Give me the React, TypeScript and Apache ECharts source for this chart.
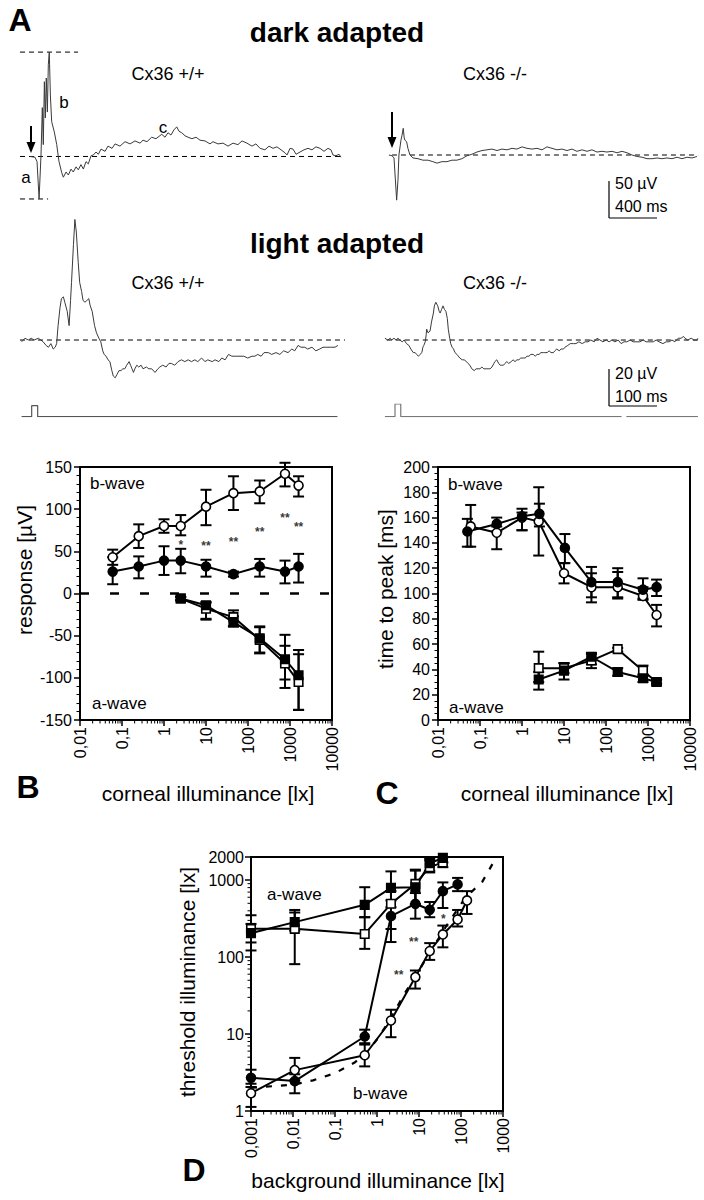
import React, { useEffect, useRef } from "react";
import * as echarts from "echarts";

const FONT = "'Liberation Sans', Arial, Helvetica, sans-serif";

// ---------- Panel A : ERG traces (time [ms], amplitude [µV]) ----------
const darkWtT = [-8, 33, 50, 67, 83, 94, 102, 111, 119, 127, 136, 144, 152, 161, 172, 194, 214, 233, 256, 269, 292, 311, 333, 352, 375, 394, 416, 436, 458, 477, 500, 519, 541, 561, 583, 617, 641, 675, 700, 741, 783, 825, 866, 908, 933, 966, 1005, 1041, 1089, 1116, 1141, 1166, 1191, 1214, 1233, 1256, 1283, 1308, 1341, 1375, 1408, 1450, 1491, 1516, 1558, 1600, 1641, 1683, 1724, 1758, 1799, 1841, 1874, 1908, 1949, 1983, 2016, 2049, 2083, 2116, 2133, 2158, 2183, 2208, 2241, 2274, 2308, 2341, 2374, 2408, 2441, 2474, 2499, 2516, 2541, 2566, 2583];
const darkWtV = [0, -1, -7, -57, 2, 66, 16, 101, 52, 106, 60, 124, 141, 83, 47, 33, 16, -7, -22, -28, -21, -25, -17, -21, -14, -18, -11, -17, -7, -10, 1, 2, 6, 3, 10, 7, 14, 11, 17, 14, 20, 17, 21, 18, 22, 20, 26, 24, 30, 26, 32, 29, 36, 40, 34, 32, 28, 26, 24, 26, 22, 21, 17, 20, 17, 18, 14, 18, 16, 21, 18, 14, 17, 11, 9, 14, 11, 13, 9, 5, 2, 11, 10, 3, 6, 9, 11, 9, 13, 11, 7, 11, 9, 2, 1, 3, -1];

const darkKoT = [-25, 0, 17, 39, 50, 58, 75, 83, 94, 102, 108, 122, 133, 150, 175, 217, 258, 300, 341, 375, 416, 458, 500, 541, 583, 625, 666, 708, 750, 791, 833, 875, 916, 958, 1000, 1041, 1083, 1125, 1166, 1208, 1250, 1291, 1333, 1375, 1416, 1458, 1500, 1541, 1583, 1625, 1666, 1708, 1750, 1791, 1833, 1875, 1916, 1958, 2000, 2041, 2083, 2125, 2166, 2208, 2250, 2291, 2333, 2375, 2416, 2458, 2500, 2541];
const darkKoV = [0, -1, -4, -61, -34, 0, 20, 26, 36, 23, 20, 18, 9, 0, -4, -5, -7, -7, -9, -11, -9, -9, -7, -7, -5, -1, 1, 4, 6, 7, 8, 6, 8, 7, 9, 8, 11, 9, 8, 9, 7, 11, 9, 7, 8, 6, 8, 5, 7, 5, 7, 4, 5, 4, 5, 3, 5, 3, 0, -2, -3, -5, -5, -4, -5, -4, -5, -3, -5, -3, -4, -2];

const lightWtT = [-21, -14, -7, -1, 5, 14, 19, 24, 30, 35, 40, 45, 49, 52, 55, 59, 62, 66, 69, 74, 78, 81, 83, 87, 90, 93, 97, 100, 104, 107, 111, 115, 119, 122, 126, 131, 135, 140, 144, 148, 151, 155, 159, 163, 167, 170, 174, 178, 182, 186, 190, 194, 198, 203, 206, 209, 212, 215, 219, 223, 228, 232, 239, 244, 250, 257, 263, 267, 273, 280, 286, 291, 298, 305, 312, 319, 326, 333, 340, 346, 354, 361, 367, 376, 382, 390, 396, 403, 410, 417, 425, 434, 442, 450, 459, 465, 471, 478, 484, 493, 500, 509, 517, 525, 534, 542, 548, 555, 561, 569, 575, 584, 592, 600, 607, 615, 623, 632, 638];
const lightWtV = [-1, 1, 0, 1, 0, 1, 0, -1, -3, -4, -2, -5, -4, -2, 8, 18, 23, 24, 21, 16, 8, 22, 32, 53, 67, 60, 43, 32, 27, 22, 21, 22, 23, 19, 16, 8, 4, 1, -1, -6, -8, -9, -11, -12, -17, -20, -21, -19, -17, -17, -16, -16, -14, -12, -14, -16, -18, -16, -14, -15, -14, -16, -15, -16, -16, -18, -16, -15, -14, -15, -13, -13, -14, -12, -11, -12, -11, -12, -11, -12, -10, -12, -11, -12, -11, -12, -10, -11, -8, -9, -9, -9, -9, -10, -9, -9, -8, -9, -7, -7, -8, -7, -8, -6, -7, -5, -6, -3, -4, -4, -5, -4, -6, -5, -4, -4, -4, -4, -3];

const lightKoT = [-21, -15, -10, -7, -2, 2, 6, 10, 15, 19, 24, 29, 33, 38, 42, 45, 49, 52, 56, 58, 60, 63, 65, 66, 69, 73, 76, 80, 82, 85, 89, 92, 94, 97, 100, 103, 106, 109, 111, 114, 116, 119, 122, 125, 129, 135, 140, 144, 149, 152, 156, 160, 165, 169, 173, 177, 181, 185, 190, 194, 198, 202, 206, 208, 212, 216, 219, 222, 226, 229, 233, 237, 242, 246, 250, 254, 258, 262, 267, 271, 275, 279, 283, 288, 292, 296, 300, 304, 309, 312, 317, 321, 325, 330, 333, 337, 342, 346, 351, 354, 360, 365, 372, 377, 383, 390, 396, 402, 408, 415, 421, 427, 433, 440, 446, 452, 458, 465, 471, 477, 483, 490, 496, 502, 510, 517, 523, 531, 538, 544, 550, 558, 565, 571, 577, 583, 590, 596, 601, 604, 610, 617, 623, 629, 631];
const lightKoV = [1, 0, 1, 0, 1, 0, 1, 0, -1, 0, -2, -3, -5, -7, -7, -8, -9, -8, -7, -4, -3, -1, 3, 6, 4, 5, 10, 15, 19, 21, 19, 16, 15, 17, 19, 17, 16, 12, 6, 1, -2, -4, -5, -7, -8, -10, -11, -11, -12, -13, -14, -16, -17, -16, -16, -16, -15, -16, -16, -16, -16, -15, -13, -12, -11, -13, -14, -14, -14, -13, -12, -13, -12, -11, -12, -11, -11, -10, -10, -10, -9, -9, -8, -8, -9, -8, -8, -7, -7, -7, -7, -6, -7, -7, -6, -5, -6, -5, -5, -4, -3, -2, -2, -2, -1, -2, -1, -1, 0, -1, 1, 0, -1, 0, -1, 0, -1, 0, -2, -1, -1, 0, -1, -1, -1, 0, -1, -1, -1, 0, -1, -2, -1, -1, 0, -1, 1, 1, 2, 1, 0, 1, 0, 0, 1];

// stimulus monitor traces (ms, on/off)
const stimLT = [-21, 0, 0, 12.5, 12.5, 637];
const stimLV = [0, 0, 1, 1, 0, 0];
const stimRT = [-21, 0, 0, 12, 12, 472, 477, 482, 631];
const stimRV: (number | string)[] = [0, 0, 1, 1, 0, 0, "-", 0, 0];

// ---------- Panel B : response amplitude ----------
const bLux = [0.06, 0.25, 1, 2.5, 10, 45, 190, 760, 1600];
const bWaveWT = [43, 68, 80, 80, 103, 119, 121, 142, 128];
const bWaveWTLo = [34, 54, 72, 69, 81, 99, 107, 127, 115];
const bWaveWTHi = [52, 82, 88, 93, 123, 139, 134, 155, 139];
const bWaveKO = [26, 32, 39, 39, 32, 23, 32, 26, 32];
const bWaveKOLo = [11, 18, 22, 24, 20, 20, 20, 12, 13];
const bWaveKOHi = [43, 44, 56, 53, 40, 26, 41, 39, 47];
const aLux = [2.5, 10, 45, 190, 760, 1600];
const aWaveWT = [-6, -18, -28, -55, -83, -105];
const aWaveWTLo = [-8, -31, -39, -71, -102, -138];
const aWaveWTHi = [-4, -11, -20, -39, -49, -67];
const aWaveKO = [-6, -14, -34, -53, -78, -97];
const aWaveKOLo = [-8, -30, -39, -70, -112, -138];
const aWaveKOHi = [-4, -10, -27, -40, -62, -72];
const bSigX = [2.5, 10, 45, 190, 760, 1600];
const bSigY = [58, 56, 61, 73, 89, 79];
const bSigT = ["*", "**", "**", "**", "**", "**"];

// ---------- Panel C : time to peak ----------
const cLuxWT = [0.06, 0.25, 1, 2.5, 10, 45, 190, 760, 1600];
const cLuxKO = [0.05, 0.25, 1, 2.6, 10.5, 45, 190, 760, 1600];
const cBWT = [153, 148, 160, 157, 116, 105, 105, 98, 83];
const cBWTLo = [137, 135, 150, 130, 108, 93, 96, 95, 74];
const cBWTHi = [170, 153, 164, 184, 124, 116, 117, 105, 91];
const cBKO = [149, 155, 161, 163, 136, 109, 109, 103, 105];
const cBKOLo = [137, 149, 150, 153, 124, 97, 97, 96, 98];
const cBKOHi = [159, 160, 167, 171, 147, 121, 120, 112, 111];
const cALux = [2.5, 10, 45, 190, 760, 1600];
const cAWT = [41, 41, 47, 56, 39, 30];
const cAWTLo = [30, 37, 41, 54, 35, 29];
const cAWTHi = [54, 45, 52, 57, 43, 32];
const cAKO = [32, 39, 50, 38, 33, 30];
const cAKOLo = [24, 32, 44, 35, 30, 28];
const cAKOHi = [38, 45, 53, 41, 36, 32];

// ---------- Panel D : threshold vs background ----------
const dLux = [0.001, 0.011, 0.51, 2.15, 8.2, 18, 37, 83, 139];
const dBWT = [1.7, 3.4, 5.3, 15, 55, 120, 197, 308, 545];
const dBWTLo = [1.13, 2.5, 3.8, 9.1, 39, 92, 134, 250, 364];
const dBWTHi = [2.26, 4.9, 7.3, 20.7, 67, 152, 257, 410, 720];
const dLuxKO = [0.001, 0.011, 0.51, 2.15, 8.2, 18, 37, 83];
const dBKO = [2.7, 2.45, 9.3, 340, 493, 412, 720, 880];
const dBKOLo = [2.05, 1.7, 7.6, 232, 316, 330, 435, 720];
const dBKOHi = [3.44, 3.0, 11.4, 545, 680, 520, 935, 1070];
const dLuxA = [0.001, 0.011, 0.51, 2.15, 8.2, 18, 37];
const dAKO = [205, 285, 478, 795, 810, 1660, 1950];
const dAKOLo = [122, 220, 330, 445, 470, 1325, 1700];
const dAKOHi = [270, 380, 810, 1300, 1370, 1900, 2000];
const dAWT = [233, 233, 200, 493, 895, 1475, 1700];
const dAWTLo = [155, 81, 128, 157, 490, 1260, 1475];
const dAWTHi = [350, 410, 330, 720, 1330, 1800, 1970];
const dDashX = [0.001, 0.01, 0.03, 0.1, 0.3, 0.6, 1, 2, 4, 8, 20, 50, 130, 320, 700];
const dDashY = [2.0, 2.2, 2.5, 3.1, 4.3, 6.0, 8.5, 15, 30, 55, 125, 280, 600, 950, 2000];
const dSigX = [3.3, 7.5, 38];
const dSigY = [58, 157, 310];
const dSigT = ["**", "**", "*"];

// ---------- helpers ----------
const zip = (a: number[], b: (number | string)[]) => a.map((v, i) => [v, b[i]]);
const zip3 = (a: number[], b: number[], c: number[]) => a.map((v, i) => [v, b[i], c[i]]);

const fmtLog = (v: number) => {
  if (v >= 1) return String(Math.round(v));
  const d = Math.round(-Math.log10(v));
  return v.toFixed(d).replace(".", ",");
};

const minorLogVals = (from: number, decades: number) => {
  const out: number[] = [];
  let d = from;
  for (let i = 0; i < decades; i++) {
    for (let k = 2; k <= 9; k++) out.push(+(d * k).toPrecision(3));
    d *= 10;
  }
  return out;
};

const errBar = (gi: number, data: number[][]) => ({
  type: "custom",
  xAxisIndex: gi,
  yAxisIndex: gi,
  data,
  z: 2,
  silent: true,
  clip: false,
  renderItem: (_p: any, api: any) => {
    const x = api.value(0);
    const lo = api.coord([x, api.value(1)]);
    const hi = api.coord([x, api.value(2)]);
    const w = 5.5;
    const st = { stroke: "#000", lineWidth: 2 };
    return {
      type: "group",
      children: [
        { type: "line", shape: { x1: lo[0], y1: lo[1], x2: hi[0], y2: hi[1] }, style: st },
        { type: "line", shape: { x1: lo[0] - w, y1: lo[1], x2: lo[0] + w, y2: lo[1] }, style: st },
        { type: "line", shape: { x1: hi[0] - w, y1: hi[1], x2: hi[0] + w, y2: hi[1] }, style: st },
      ],
    };
  },
});

const marks = (gi: number, data: any[], square: boolean, open: boolean) => ({
  type: "line",
  xAxisIndex: gi,
  yAxisIndex: gi,
  data,
  z: 3,
  clip: false,
  silent: true,
  symbol: square ? "rect" : "circle",
  symbolSize: square ? 8.5 : 9,
  showAllSymbol: true,
  itemStyle: { color: open ? "#fff" : "#000", borderColor: "#000", borderWidth: 1.6 },
  lineStyle: { color: "#000", width: 2 },
});

const minorTicksX = (gi: number, vals: number[], yBase: number) => ({
  type: "custom",
  xAxisIndex: gi,
  yAxisIndex: gi,
  data: vals.map((v) => [v, yBase]),
  silent: true,
  clip: false,
  z: 4,
  renderItem: (_p: any, api: any) => {
    const c = api.coord([api.value(0), api.value(1)]);
    return { type: "line", shape: { x1: c[0], y1: c[1], x2: c[0], y2: c[1] + 3.5 }, style: { stroke: "#000", lineWidth: 1 } };
  },
});

const minorTicksY = (gi: number, vals: number[], xBase: number) => ({
  type: "custom",
  xAxisIndex: gi,
  yAxisIndex: gi,
  data: vals.map((v) => [xBase, v]),
  silent: true,
  clip: false,
  z: 4,
  renderItem: (_p: any, api: any) => {
    const c = api.coord([api.value(0), api.value(1)]);
    return { type: "line", shape: { x1: c[0], y1: c[1], x2: c[0] - 3.5, y2: c[1] }, style: { stroke: "#000", lineWidth: 1 } };
  },
});

const sig = (gi: number, xs: number[], ys: number[], ts: string[]) => ({
  type: "scatter",
  xAxisIndex: gi,
  yAxisIndex: gi,
  data: xs.map((x, i) => [x, ys[i], ts[i]]),
  symbolSize: 1,
  itemStyle: { color: "rgba(0,0,0,0)" },
  silent: true,
  z: 3,
  label: {
    show: true,
    position: "inside",
    formatter: (p: any) => p.data[2],
    fontSize: 12,
    fontWeight: "bold",
    color: "#000",
    fontFamily: FONT,
  },
});

const traceLine = (gi: number, data: any[], color = "#3a3a3a", width = 1) => ({
  type: "line",
  xAxisIndex: gi,
  yAxisIndex: gi,
  data,
  symbol: "none",
  silent: true,
  lineStyle: { color, width },
});

const dashLine = (gi: number, data: any[], dash: number[] = [5, 4], width = 1) => ({
  type: "line",
  xAxisIndex: gi,
  yAxisIndex: gi,
  data,
  symbol: "none",
  silent: true,
  z: 1,
  lineStyle: { color: "#000", width, type: dash },
});

const hiddenAxis = (gi: number, min: number, max: number) => ({ type: "value", gridIndex: gi, min, max, show: false });

const axisLineStyle = { show: true, onZero: false, lineStyle: { color: "#000", width: 2 } };
const tickStyle = { show: true, length: 6, lineStyle: { color: "#000", width: 1.5 } };
const labelStyle = { color: "#000", fontSize: 16, fontFamily: FONT };

const logX = (gi: number, min: number, max: number) => ({
  type: "log",
  logBase: 10,
  gridIndex: gi,
  min,
  max,
  axisLine: axisLineStyle,
  axisTick: tickStyle,
  splitLine: { show: false },
  axisLabel: { ...labelStyle, rotate: 90, margin: 7, formatter: fmtLog },
});

const txt = (text: string, x: number, y: number, size: number, opts: any = {}) => ({
  type: "text",
  x,
  y,
  rotation: opts.rot || 0,
  silent: true,
  style: {
    text,
    fontSize: size,
    fontWeight: opts.bold ? "bold" : "normal",
    fontFamily: FONT,
    fill: "#000",
    align: opts.align || "center",
    verticalAlign: "middle",
  },
});

const gline = (x1: number, y1: number, x2: number, y2: number, w = 1.5) => ({
  type: "line",
  silent: true,
  shape: { x1, y1, x2, y2 },
  style: { stroke: "#000", lineWidth: w },
});

const option: any = {
  animation: false,
  textStyle: { fontFamily: FONT },
  grid: [
    { left: 20, top: 45, width: 325, height: 165 },
    { left: 385, top: 100, width: 318, height: 110 },
    { left: 18, top: 215, width: 330, height: 170 },
    { left: 383, top: 215, width: 320, height: 170 },
    { left: 18, top: 405.7, width: 330, height: 11 },
    { left: 383, top: 404, width: 320, height: 12.7 },
    { left: 80, top: 467, width: 252, height: 253, show: true, borderColor: "#000", borderWidth: 2 },
    { left: 438, top: 467, width: 252, height: 253, show: true, borderColor: "#000", borderWidth: 2 },
    { left: 251, top: 857, width: 252, height: 254, show: true, borderColor: "#000", borderWidth: 2 },
  ],
  xAxis: [
    hiddenAxis(0, -92, 2616),
    hiddenAxis(1, -58, 2591),
    hiddenAxis(2, -28.5, 659),
    hiddenAxis(3, -25, 641.6),
    hiddenAxis(4, -28.5, 659),
    hiddenAxis(5, -25, 641.6),
    logX(6, 0.01, 10000),
    logX(7, 0.01, 10000),
    logX(8, 0.001, 1000),
  ],
  yAxis: [
    hiddenAxis(0, -72.3, 150.6),
    hiddenAxis(1, -74.3, 74.3),
    hiddenAxis(2, -25, 69.5),
    hiddenAxis(3, -25, 69.5),
    hiddenAxis(4, 0, 1),
    hiddenAxis(5, 0, 1),
    {
      type: "value",
      gridIndex: 6,
      min: -150,
      max: 150,
      interval: 50,
      axisLine: axisLineStyle,
      axisTick: tickStyle,
      minorTick: { show: true, splitNumber: 5, length: 3.5, lineStyle: { color: "#000", width: 1 } },
      splitLine: { show: false },
      axisLabel: { ...labelStyle, margin: 8 },
    },
    {
      type: "value",
      gridIndex: 7,
      min: 0,
      max: 200,
      interval: 20,
      axisLine: axisLineStyle,
      axisTick: tickStyle,
      minorTick: { show: true, splitNumber: 4, length: 3.5, lineStyle: { color: "#000", width: 1 } },
      splitLine: { show: false },
      axisLabel: { ...labelStyle, margin: 8 },
    },
    {
      type: "log",
      logBase: 10,
      gridIndex: 8,
      min: 1,
      max: 2000,
      axisLine: axisLineStyle,
      axisTick: tickStyle,
      splitLine: { show: false },
      axisLabel: { ...labelStyle, margin: 7, formatter: (v: number) => String(Math.round(v)) },
    },
  ],
  series: [
    // Panel A
    dashLine(0, [[-92, 0], [2575, 0]]),
    dashLine(0, [[-92, 141], [392, 141]]),
    dashLine(0, [[-92, -57.4], [142, -57.4]]),
    traceLine(0, zip(darkWtT, darkWtV)),
    dashLine(1, [[0, 0], [2550, 0]]),
    traceLine(1, zip(darkKoT, darkKoV)),
    dashLine(2, [[-24.4, 0], [652.8, 0]]),
    traceLine(2, zip(lightWtT, lightWtV)),
    dashLine(3, [[-17, 0], [631, 0]]),
    traceLine(3, zip(lightKoT, lightKoV)),
    traceLine(4, zip(stimLT, stimLV), "#555", 1.2),
    traceLine(5, zip(stimRT, stimRV), "#777", 1.2),

    // Panel B
    dashLine(6, [[0.01, 0], [10000, 0]], [9, 21], 2.5),
    minorTicksX(6, minorLogVals(0.01, 6), -150),
    errBar(6, zip3(bLux, bWaveWTLo, bWaveWTHi)),
    errBar(6, zip3(bLux, bWaveKOLo, bWaveKOHi)),
    errBar(6, zip3(aLux, aWaveWTLo, aWaveWTHi)),
    errBar(6, zip3(aLux, aWaveKOLo, aWaveKOHi)),
    marks(6, zip(bLux, bWaveWT), false, true),
    marks(6, zip(bLux, bWaveKO), false, false),
    marks(6, zip(aLux, aWaveWT), true, true),
    marks(6, zip(aLux, aWaveKO), true, false),
    sig(6, bSigX, bSigY, bSigT),

    // Panel C
    minorTicksX(7, minorLogVals(0.01, 6), 0),
    errBar(7, zip3(cLuxWT, cBWTLo, cBWTHi)),
    errBar(7, zip3(cLuxKO, cBKOLo, cBKOHi)),
    errBar(7, zip3(cALux, cAWTLo, cAWTHi)),
    errBar(7, zip3(cALux, cAKOLo, cAKOHi)),
    marks(7, zip(cLuxWT, cBWT), false, true),
    marks(7, zip(cLuxKO, cBKO), false, false),
    marks(7, zip(cALux, cAWT), true, true),
    marks(7, zip(cALux, cAKO), true, false),

    // Panel D
    minorTicksX(8, minorLogVals(0.001, 6), 1),
    minorTicksY(8, minorLogVals(1, 3), 0.001),
    dashLine(8, zip(dDashX, dDashY), [6, 9], 2.2),
    errBar(8, zip3(dLux, dBWTLo, dBWTHi)),
    errBar(8, zip3(dLuxKO, dBKOLo, dBKOHi)),
    errBar(8, zip3(dLuxA, dAWTLo, dAWTHi)),
    errBar(8, zip3(dLuxA, dAKOLo, dAKOHi)),
    marks(8, zip(dLux, dBWT), false, true),
    marks(8, zip(dLuxKO, dBKO), false, false),
    marks(8, zip(dLuxA, dAWT), true, true),
    marks(8, zip(dLuxA, dAKO), true, false),
    sig(8, dSigX, dSigY, dSigT),
  ],
  graphic: [
    // Panel A texts
    txt("A", 20, 20, 32, { bold: true }),
    txt("dark adapted", 337, 32, 28, { bold: true }),
    txt("Cx36 +/+", 168, 74, 18),
    txt("Cx36 -/-", 495, 74, 18),
    txt("b", 64, 102, 17),
    txt("a", 26, 177, 17),
    txt("c", 163, 127, 17),
    txt("50 µV", 615, 183, 16, { align: "left" }),
    txt("400 ms", 615, 206, 16, { align: "left" }),
    txt("light adapted", 337, 243, 28, { bold: true }),
    txt("Cx36 +/+", 168, 283, 18),
    txt("Cx36 -/-", 495, 283, 18),
    txt("20 µV", 615, 373, 16, { align: "left" }),
    txt("100 ms", 615, 396, 16, { align: "left" }),
    // arrows
    gline(31, 126, 31, 145, 2),
    { type: "polygon", silent: true, shape: { points: [[26.5, 142], [35.5, 142], [31, 153]] }, style: { fill: "#000" } },
    gline(392, 112, 392, 139, 2),
    { type: "polygon", silent: true, shape: { points: [[387.5, 137], [396.5, 137], [392, 148]] }, style: { fill: "#000" } },
    // scale bars
    gline(609, 181, 609, 218, 1.2),
    gline(609, 218, 657, 218, 1.2),
    gline(609, 369, 609, 406, 1.2),
    gline(609, 406, 657, 406, 1.2),
    // Panel B
    txt("b-wave", 90, 483, 17, { align: "left" }),
    txt("a-wave", 92, 703, 17, { align: "left" }),
    txt("response [µV]", 24, 570, 21, { rot: Math.PI / 2 }),
    txt("corneal illuminance [lx]", 208, 793, 21),
    txt("B", 28, 787, 32, { bold: true }),
    // Panel C
    txt("b-wave", 448, 484, 17, { align: "left" }),
    txt("a-wave", 449, 707, 17, { align: "left" }),
    txt("time to peak [ms]", 385, 589, 21, { rot: Math.PI / 2 }),
    txt("corneal illuminance [lx]", 567, 793, 21),
    txt("C", 387, 793, 32, { bold: true }),
    // Panel D
    txt("a-wave", 267, 894, 17, { align: "left" }),
    txt("b-wave", 353, 1093, 17, { align: "left" }),
    txt("threshold illuminance [lx]", 187, 982, 21, { rot: Math.PI / 2 }),
    txt("background illuminance [lx]", 378, 1180, 21),
    txt("D", 194, 1170, 32, { bold: true }),
  ],
};

export default function App() {
  const ref = useRef<HTMLDivElement>(null);
  useEffect(() => {
    document.body.style.margin = "0";
    const chart = echarts.init(ref.current as HTMLDivElement, null, { renderer: "svg" });
    chart.setOption(option);
    return () => chart.dispose();
  }, []);
  return <div ref={ref} style={{ width: 704, height: 1200, background: "#fff" }} />;
}
